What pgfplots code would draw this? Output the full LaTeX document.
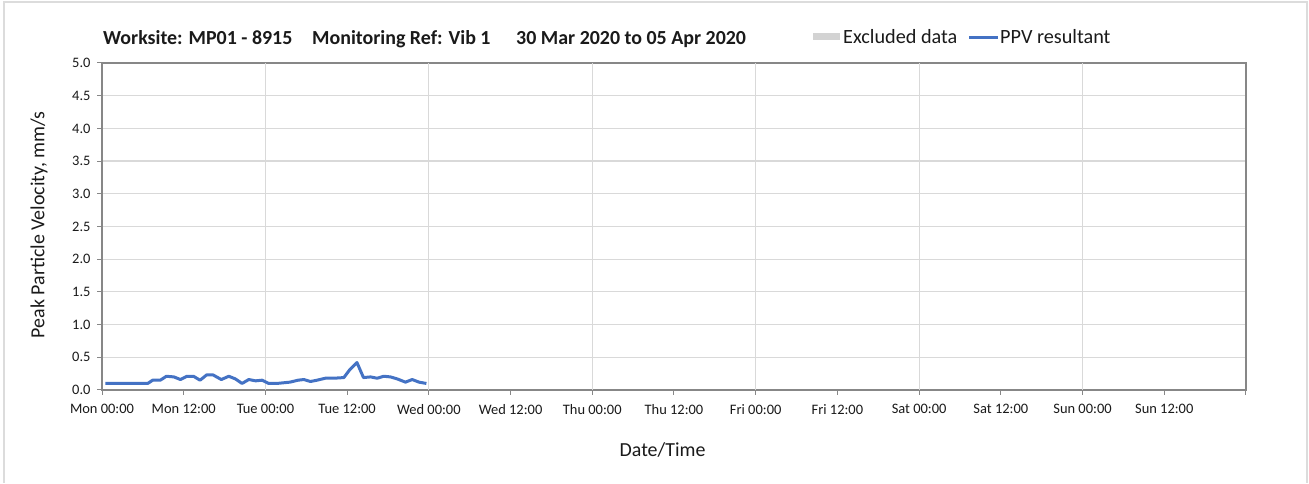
\documentclass[border=0pt]{standalone}
\usepackage{pgfplots}
\pgfplotsset{compat=1.18}
\usepackage{fontspec}
\setmainfont{Carlito}
\definecolor{ppvblue}{HTML}{4472C4}
\definecolor{gridc}{HTML}{D9D9D9}
\definecolor{axc}{HTML}{878787}
\definecolor{borderc}{HTML}{DCDCDC}
\definecolor{exclc}{HTML}{D3D3D3}
\definecolor{txt}{HTML}{1A1A1A}
\begin{document}
\begin{tikzpicture}[x=1bp,y=1bp]
\fill[white] (0,0) rectangle (1309,483);
\draw[line width=1.5bp, borderc] (4,0) -- (4,481) -- (1307,481) -- (1307,0);
% title
\node[anchor=base west, inner sep=0, font=\fontsize{20}{22}\selectfont\bfseries, text=txt] at (103,438) {Worksite: MP01 - 8915};
\node[anchor=base west, inner sep=0, font=\fontsize{20}{22}\selectfont\bfseries, text=txt] at (312,438) {Monitoring Ref: Vib 1};
\node[anchor=base west, inner sep=0, font=\fontsize{20}{22}\selectfont\bfseries, text=txt] at (516,438) {30 Mar 2020 to 05 Apr 2020};
% legend
\fill[exclc] (812.7,443) rectangle (839.5,449.5);
\node[anchor=base west, inner sep=0, font=\fontsize{20.3}{22}\selectfont, text=txt] at (843,439) {Excluded data};
\draw[ppvblue, line width=3bp] (969,445) -- (998,445);
\node[anchor=base west, inner sep=0, font=\fontsize{20.3}{22}\selectfont, text=txt] at (1000,439) {PPV resultant};
\begin{axis}[
  at={(102bp,93bp)}, anchor=south west,
  scale only axis, width=1144bp, height=327bp,
  xmin=0, xmax=7, ymin=0, ymax=5,
  xtick={0,0.5,...,7},
  xticklabels={Mon 00:00,Mon 12:00,Tue 00:00,Tue 12:00,Wed 00:00,Wed 12:00,Thu 00:00,Thu 12:00,Fri 00:00,Fri 12:00,Sat 00:00,Sat 12:00,Sun 00:00,Sun 12:00,},
  extra x ticks={1,2,3,4,5,6},
  extra x tick labels={},
  extra x tick style={grid=major, major tick length=0pt},
  ytick={0,0.5,...,5},
  ymajorgrids,
  grid style={gridc, line width=1.2bp},
  axis line style={axc, line width=1.2bp},
  tick style={axc, line width=1bp},
  major tick length=5bp,
  tick align=outside,
  xtick pos=bottom, ytick pos=left,
  /pgf/number format/fixed, /pgf/number format/fixed zerofill, /pgf/number format/precision=1, /pgf/number format/assume math mode=true,
  tick label style={font=\fontsize{14.5}{16}\selectfont, text=txt},
  xticklabel style={yshift=-6bp},
  yticklabel style={xshift=-3bp},
  xlabel={Date/Time},
  ylabel={Peak Particle Velocity, mm/s},
  label style={font=\fontsize{20}{22}\selectfont, text=txt},
  xlabel style={at={(axis description cs:0.49,-0.183)}, anchor=center},
  ylabel style={at={(axis description cs:-0.055,0.505)}, anchor=center},
  clip=false,
]
\addplot[ppvblue, line width=3bp, line join=round] coordinates {
(0.02,0.10) (0.10,0.10) (0.20,0.10) (0.28,0.10) (0.31,0.15) (0.357,0.15)
(0.394,0.21) (0.44,0.20) (0.48,0.16) (0.52,0.21) (0.56,0.21) (0.60,0.15)
(0.64,0.23) (0.68,0.23) (0.73,0.16) (0.776,0.21) (0.816,0.17) (0.857,0.10)
(0.898,0.16) (0.94,0.14) (0.98,0.15) (1.02,0.10) (1.07,0.10) (1.15,0.12)
(1.20,0.15) (1.235,0.16) (1.275,0.13) (1.316,0.15) (1.367,0.18) (1.418,0.18)
(1.48,0.19) (1.516,0.31) (1.56,0.42) (1.60,0.19) (1.643,0.20) (1.684,0.18)
(1.724,0.21) (1.765,0.20) (1.806,0.17) (1.857,0.12) (1.898,0.16) (1.94,0.12)
(1.985,0.10)
};
\end{axis}
\end{tikzpicture}
\end{document}
